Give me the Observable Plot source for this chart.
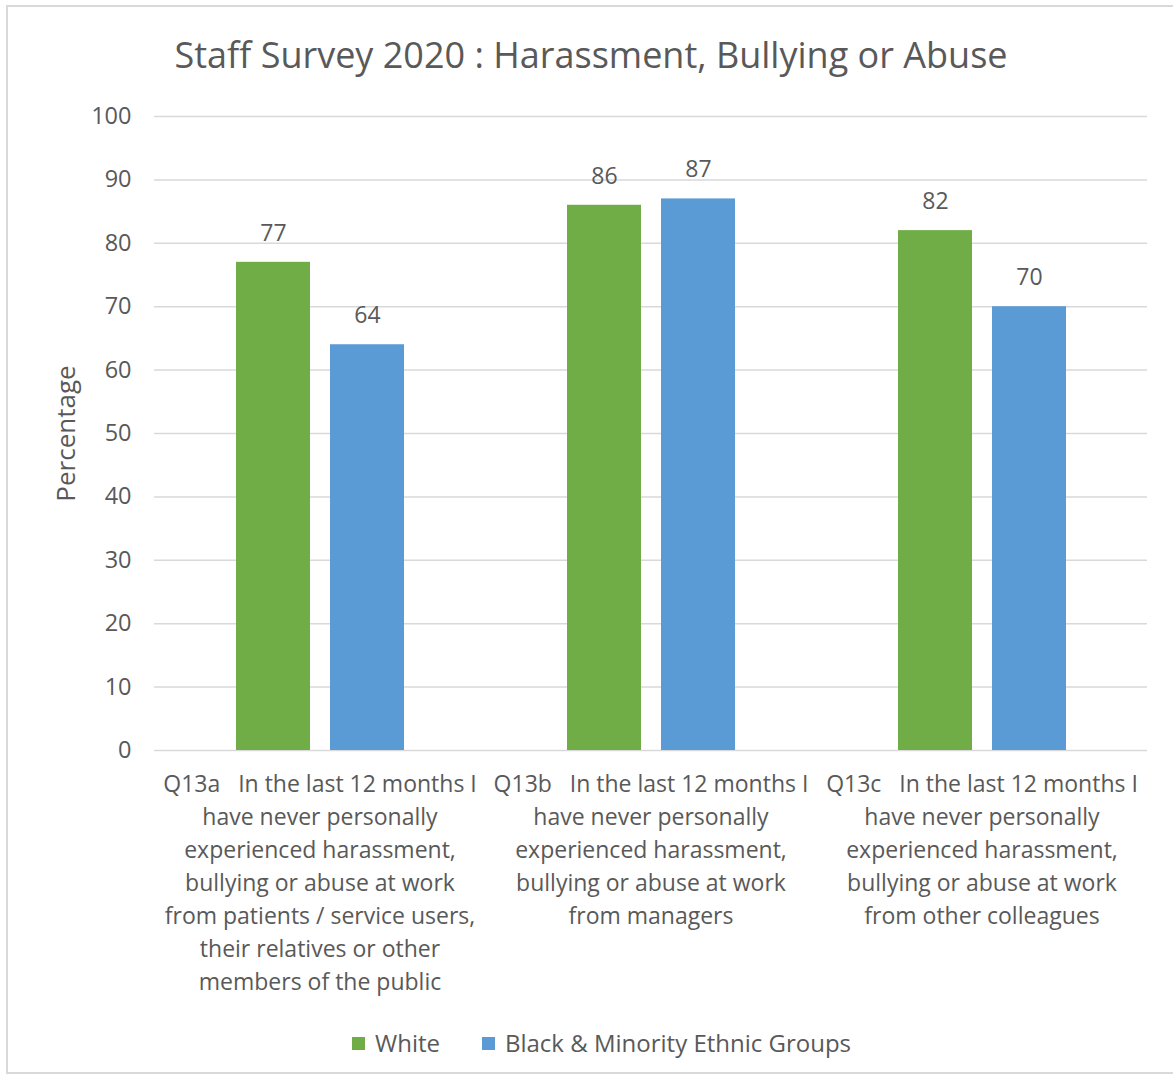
<!DOCTYPE html>
<html>
<head>
<meta charset="utf-8">
<script src="https://cdn.jsdelivr.net/npm/d3@7"></script>
<script src="https://cdn.jsdelivr.net/npm/@observablehq/plot@0.6"></script>
<style>
  html, body { margin: 0; padding: 0; background: #fff; }
  body { width: 1173px; height: 1078px; position: relative; overflow: hidden; font-family: "Open Sans", sans-serif; color: #595959; }
  #frame { position: absolute; left: 6px; top: 5px; width: 1180px; height: 1069px; border: 2px solid #d9d9d9; box-sizing: border-box; }
  #title { position: absolute; left: 0; top: 30px; width: 1182px; text-align: center; font-size: 36px; line-height: 50px; color: #595959; }
  #chart { position: absolute; left: 0; top: 90px; }
  #legend { position: absolute; left: 352px; top: 1028px; white-space: nowrap; font-size: 24px; line-height: 30px; color: #595959; display: flex; align-items: center; }
  #legend span.item { display: inline-flex; align-items: center; margin-right: 42px; }
  #legend span.sw { display: inline-block; width: 13px; height: 13px; margin-right: 10px; }
</style>
</head>
<body>
<div id="frame"></div>
<div id="title">Staff Survey 2020 : Harassment, Bullying or Abuse</div>
<div id="chart"></div>
<div id="legend"></div>
<script>
const questions = ["Q13a", "Q13b", "Q13c"];
const questionLabels = [
  "Q13a   In the last 12 months I\nhave never personally\nexperienced harassment,\nbullying or abuse at work\nfrom patients / service users,\ntheir relatives or other\nmembers of the public",
  "Q13b   In the last 12 months I\nhave never personally\nexperienced harassment,\nbullying or abuse at work\nfrom managers",
  "Q13c   In the last 12 months I\nhave never personally\nexperienced harassment,\nbullying or abuse at work\nfrom other colleagues"
];
const series = ["White", "Black & Minority Ethnic Groups"];
const whiteValues = [77, 86, 82];
const bmeValues = [64, 87, 70];
const seriesColors = ["#70ad47", "#5b9bd5"];
const yTicks = [0, 10, 20, 30, 40, 50, 60, 70, 80, 90, 100];

const rows = [];
questions.forEach((q, i) => {
  rows.push({question: q, series: series[0], value: whiteValues[i]});
  rows.push({question: q, series: series[1], value: bmeValues[i]});
});
const labelRows = questions.map((q, i) => ({question: q, label: questionLabels[i]}));

const chart = Plot.plot({
  width: 1173,
  height: 910,
  marginTop: 26,
  marginBottom: 250,
  marginLeft: 153,
  marginRight: 26,
  style: {fontFamily: "Open Sans, sans-serif", fontSize: "23px", color: "#595959", background: "transparent", overflow: "visible"},
  fx: {domain: questions, padding: 0, axis: null},
  x: {domain: series, paddingInner: 0.213, paddingOuter: 0.867, axis: null},
  y: {domain: [0, 100], axis: null},
  color: {domain: series, range: seriesColors},
  marks: [
    Plot.ruleY(yTicks, {stroke: "#d9d9d9", strokeWidth: 1.5}),
    Plot.barY(rows, {fx: "question", x: "series", y: "value", fill: "series"}),
    Plot.text(rows, {fx: "question", x: "series", y: "value", text: d => String(d.value), dy: -29, fill: "#595959", fontSize: 23}),
    Plot.text(labelRows, {fx: "question", text: "label", frameAnchor: "bottom", lineAnchor: "top", dy: 18, lineHeight: 1.435, fill: "#595959", fontSize: 23}),
    Plot.axisY({ticks: yTicks, tickSize: 0, tickPadding: 23, fontSize: 23.5, fill: "#595959", label: null}),
    Plot.axisY({ticks: [], tickSize: 0, fontSize: 26, fill: "#595959", label: "Percentage", labelAnchor: "center", labelArrow: "none", labelOffset: 98})
  ]
});
document.getElementById("chart").appendChild(chart);

const legend = document.getElementById("legend");
series.forEach((s, i) => {
  const item = document.createElement("span");
  item.className = "item";
  const sw = document.createElement("span");
  sw.className = "sw";
  sw.style.background = seriesColors[i];
  item.appendChild(sw);
  item.appendChild(document.createTextNode(s));
  legend.appendChild(item);
});
</script>
</body>
</html>
